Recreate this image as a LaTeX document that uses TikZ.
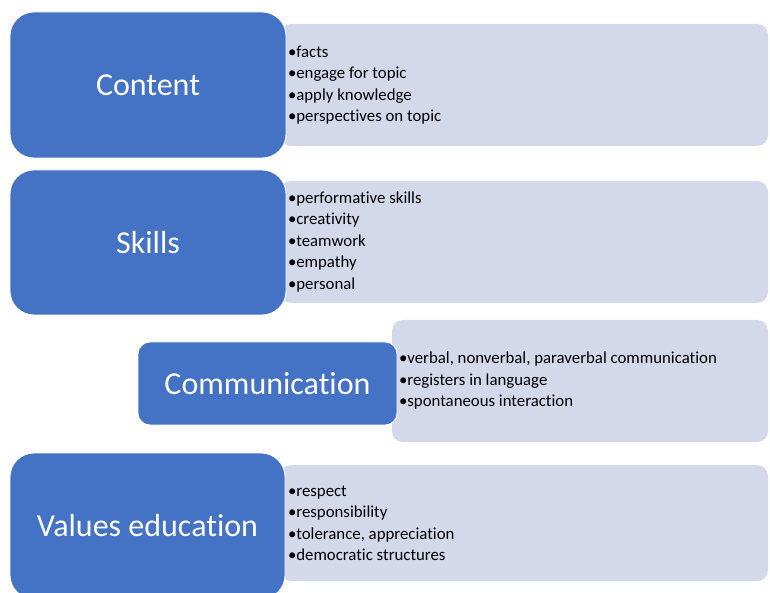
\documentclass[tikz,border=0pt]{standalone}
\usepackage{fontspec}
\setmainfont{Carlito}[Ligatures={NoCommon,NoContextual}]
\usetikzlibrary{positioning}
\definecolor{topicblue}{HTML}{4472C4}
\definecolor{detailgrey}{HTML}{D3D8EA}
\tikzset{
  my topic/.style={
    fill=topicblue,
    draw=white,
    line width=0.8pt,
    text=white,
    rounded corners=24pt,
    inner sep=0pt,
    font=\fontsize{32}{38}\selectfont
  },
  my detail/.style={
    fill=detailgrey,
    rounded corners=11pt,
    inner sep=0pt
  },
  my items/.style={
    align=left,
    inner sep=0pt,
    font=\fontsize{16.8}{21.5}\selectfont
  }
}
\begin{document}
\begin{tikzpicture}[x=1pt,y=1pt]
\useasboundingbox (0,0) rectangle (770,592);
% Content
\node (cdet) at (524,507) [my detail,minimum width=488pt,minimum height=122pt] {};
\node (cont) at (148,507) [my topic,minimum width=276pt,minimum height=146pt] {Content};
\node (clist) [my items,right=8pt of cdet.west] {•facts\\•engage for topic\\•apply knowledge\\•perspectives on topic};
% Skills
\node (sdet) at (524,350) [my detail,minimum width=488pt,minimum height=122pt] {};
\node (skil) at (148,349.5) [my topic,minimum width=276pt,minimum height=145pt] {Skills};
\node (slist) [my items,right=8pt of sdet.west] {•performative skills\\•creativity\\•teamwork\\•empathy\\•personal};
% Communication
\node (mdet) at (580,211) [my detail,minimum width=376pt,minimum height=122pt] {};
\node (comm) at (267.5,208.5) [my topic,rounded corners=12pt,minimum width=259pt,minimum height=83pt] {Communication};
\node (mlist) [my items,right=7pt of mdet.west] {•verbal, nonverbal, paraverbal communication\\•registers in language\\•spontaneous interaction};
% Values education
\node (vdet) at (524,69) [my detail,minimum width=488pt,minimum height=116pt] {};
\node (valu) at (147.5,66) [my topic,minimum width=275pt,minimum height=146pt] {Values education};
\node (vlist) [my items,right=8pt of vdet.west] {•respect\\•responsibility\\•tolerance, appreciation\\•democratic structures};
\end{tikzpicture}
\end{document}
